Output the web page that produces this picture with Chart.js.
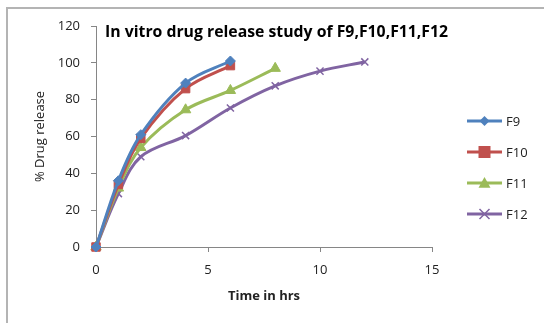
<!DOCTYPE html>
<html>
<head>
<meta charset="utf-8">
<script src="https://cdn.jsdelivr.net/npm/chart.js@4"></script>
<style>
    html, body { margin: 0; padding: 0; background: #fff; }
    #wrap { position: relative; width: 544px; height: 323px; overflow: hidden; }
    #frame {
        position: absolute; left: 6px; top: 7px; right: -4px; bottom: -4px;
        border-left: 2px solid #b4b4b4; border-top: 2px solid #b4b4b4;
        pointer-events: none;
    }
    canvas { position: absolute; left: 0; top: 0; }
</style>
</head>
<body>
<div id="wrap">
    <canvas id="releaseChart" width="544" height="323"></canvas>
    <div id="frame"></div>
</div>
<script>
const chartTitle = "In vitro drug release study of F9,F10,F11,F12";
const xTitle = "Time in hrs";
const yTitle = "% Drug release";

const seriesNames = ["F9", "F10", "F11", "F12"];

const timeF9 = [0, 1, 2, 4, 6];
const releaseF9 = [0, 36, 61, 89, 101];

const timeF10 = [0, 1, 2, 4, 6];
const releaseF10 = [0, 34, 59, 86, 98.5];

const timeF11 = [0, 1, 2, 4, 6, 8];
const releaseF11 = [0, 32, 54, 74.5, 85, 97];

const timeF12 = [0, 1, 2, 4, 6, 8, 10, 12];
const releaseF12 = [0, 29, 49, 60.5, 75.5, 87.5, 95.5, 100.5];

const colors = ["#4F81BD", "#C0504D", "#9BBB59", "#8064A2"];
const markers = ["rectRot", "rect", "triangle", "crossRot"];
const markerSizes = [5, 6, 6, 5];

const FONT = "'Open Sans', 'DejaVu Sans', sans-serif";

function toPoints(xs, ys) {
    return xs.map((x, i) => ({ x, y: ys[i] }));
}

const allTimes = [timeF9, timeF10, timeF11, timeF12];
const allRelease = [releaseF9, releaseF10, releaseF11, releaseF12];

const datasets = seriesNames.map((name, i) => ({
    label: name,
    data: toPoints(allTimes[i], allRelease[i]),
    borderColor: colors[i],
    backgroundColor: colors[i],
    borderWidth: 3,
    tension: 0.35,
    clip: false,
    pointStyle: markers[i],
    pointRadius: markerSizes[i],
    pointBorderWidth: markers[i] === "crossRot" ? 1.5 : 1,
    pointBorderColor: colors[i],
    pointBackgroundColor: colors[i]
}));

function drawMarker(ctx, style, x, y, r, color) {
    ctx.save();
    ctx.fillStyle = color;
    ctx.strokeStyle = color;
    ctx.beginPath();
    if (style === "rectRot") {
        ctx.moveTo(x, y - r); ctx.lineTo(x + r, y); ctx.lineTo(x, y + r); ctx.lineTo(x - r, y);
        ctx.closePath(); ctx.fill();
    } else if (style === "rect") {
        ctx.rect(x - r, y - r, 2 * r, 2 * r); ctx.fill();
    } else if (style === "triangle") {
        ctx.moveTo(x, y - r); ctx.lineTo(x + r, y + r * 0.8); ctx.lineTo(x - r, y + r * 0.8);
        ctx.closePath(); ctx.fill();
    } else {
        ctx.lineWidth = 1.5;
        ctx.moveTo(x - r, y - r); ctx.lineTo(x + r, y + r);
        ctx.moveTo(x + r, y - r); ctx.lineTo(x - r, y + r);
        ctx.stroke();
    }
    ctx.restore();
}

const textPlugin = {
    id: "excelText",
    afterDraw(chart) {
        const ctx = chart.ctx;
        const area = chart.chartArea;
        ctx.save();

        // title sits inside the plot area, like the original
        ctx.fillStyle = "#000";
        ctx.font = "bold 15.8px " + FONT;
        ctx.textAlign = "left";
        ctx.textBaseline = "middle";
        ctx.fillText(chartTitle, 105, 32);

        ctx.font = "bold 13px " + FONT;
        ctx.fillStyle = "#222";
        ctx.textAlign = "center";
        ctx.fillText(xTitle, (area.left + area.right) / 2, 296);

        ctx.save();
        ctx.translate(40, (area.top + area.bottom) / 2);
        ctx.rotate(-Math.PI / 2);
        ctx.font = "13px " + FONT;
        ctx.fillText(yTitle, 0, 0);
        ctx.restore();

        // legend
        ctx.font = "13px " + FONT;
        ctx.textAlign = "left";
        seriesNames.forEach((name, i) => {
            const y = 121 + i * 31;
            ctx.strokeStyle = colors[i];
            ctx.lineWidth = 3;
            ctx.beginPath();
            ctx.moveTo(467, y);
            ctx.lineTo(502, y);
            ctx.stroke();
            drawMarker(ctx, markers[i], 484.5, y, markerSizes[i], colors[i]);
            ctx.fillStyle = "#222";
            ctx.fillText(name, 506, y + 1);
        });
        ctx.restore();
    }
};

new Chart(document.getElementById("releaseChart"), {
    type: "line",
    data: { datasets },
    options: {
        responsive: false,
        animation: false,
        layout: { padding: { left: 0, top: 26, right: 112, bottom: 0 } },
        plugins: {
            legend: { display: false },
            title: { display: false },
            tooltip: { enabled: false }
        },
        scales: {
            x: {
                type: "linear",
                min: 0,
                max: 15,
                afterFit: scale => { scale.height = 76; },
                ticks: { stepSize: 5, padding: 10, color: "#222", font: { family: FONT, size: 13 } },
                grid: { drawOnChartArea: false, drawTicks: true, tickLength: 5, color: "#868686" },
                border: { color: "#868686", width: 1 }
            },
            y: {
                min: 0,
                max: 120,
                afterFit: scale => { scale.width = 96; },
                ticks: { stepSize: 20, padding: 11, color: "#222", font: { family: FONT, size: 13 } },
                grid: { drawOnChartArea: false, drawTicks: true, tickLength: 5, color: "#868686" },
                border: { color: "#868686", width: 1 }
            }
        }
    },
    plugins: [textPlugin]
});
</script>
</body>
</html>
